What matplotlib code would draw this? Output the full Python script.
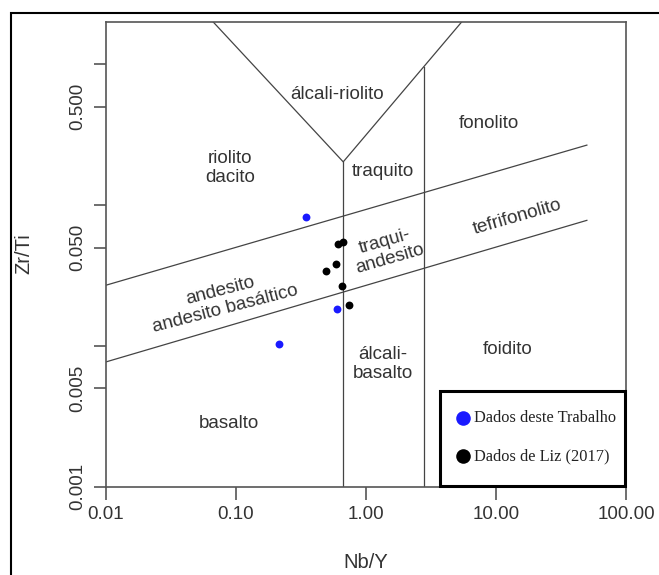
import matplotlib.pyplot as plt
from matplotlib.patches import Rectangle

# amostras
blue_nby = [0.345, 0.595, 0.214]
blue_zrti = [0.0826, 0.0184, 0.0104]
black_nby = [0.605, 0.669, 0.588, 0.492, 0.650, 0.740]
black_zrti = [0.0528, 0.0548, 0.0385, 0.0339, 0.0265, 0.0194]

# limites dos campos (Pearce 1996)
upper_x = [0.01, 50]
upper_y = [0.027, 0.267]
lower_x = [0.01, 50]
lower_y = [0.0077, 0.078]
v_x = [0.0668, 0.668, 5.44]
v_y = [2.0, 0.203, 2.0]
vert1_x = [0.668, 0.668]
vert1_y = [0.001, 0.203]
vert2_x = [2.81, 2.81]
vert2_y = [0.001, 0.96]

xticks = [0.01, 0.1, 1, 10, 100]
xlabels = ['0.01', '0.10', '1.00', '10.00', '100.00']
yticks = [0.001, 0.005, 0.01, 0.05, 0.1, 0.5, 1]
ylabels = ['0.001', '0.005', '', '0.050', '', '0.500', '']

fields = [
    ('álcali-riolito', 0.0, 337, 95),
    ('riolito\ndacito', 0.0, 230, 168),
    ('traquito', 0.0, 383, 172),
    ('fonolito', 0.0, 489, 123),
    ('tefrifonolito', 16.0, 517, 217),
    ('traqui-\nandesito', 16.0, 387, 250),
    ('andesito\nandesito basáltico', 14.5, 223, 300),
    ('álcali-\nbasalto', 0.0, 383, 364),
    ('foidito', 0.0, 508, 350),
    ('basalto', 0.0, 229, 423),
]

plt.rcParams['font.family'] = ['Liberation Sans', 'DejaVu Sans']
W, H = 659, 575
fig = plt.figure(figsize=(W / 100, H / 100), dpi=100)
ax = fig.add_axes([106 / W, 1 - 486.7 / H, 520 / W, 464.7 / H])
ax.set_xscale('log')
ax.set_yscale('log')
ax.set_xlim(0.01, 100)
ax.set_ylim(0.001, 2.0)

lc = '#444444'
for xs, ys in [(upper_x, upper_y), (lower_x, lower_y), (v_x, v_y),
               (vert1_x, vert1_y), (vert2_x, vert2_y)]:
    ax.plot(xs, ys, color=lc, lw=0.9)

ax.scatter(blue_nby, blue_zrti, s=32, color='#1a1aff', zorder=3, linewidths=0)
ax.scatter(black_nby, black_zrti, s=32, color='black', zorder=3, linewidths=0)

for txt, rot, px, py in fields:
    ax.text(px / W, 1 - py / H, txt, transform=fig.transFigure, rotation=rot,
            ha='center', va='center', fontsize=13.5, color='#333333',
            linespacing=1.1, rotation_mode='anchor')

ax.set_xticks(xticks)
ax.set_xticklabels(xlabels)
ax.set_yticks(yticks)
ax.set_yticklabels(ylabels, rotation=90, va='center')
ax.minorticks_off()
ax.tick_params(length=9, width=1.2, color='#555555', labelsize=13.5,
               labelcolor='#333333', pad=5)
for s in ax.spines.values():
    s.set_color('#555555')
    s.set_linewidth(1.2)

ax.set_xlabel('Nb/Y', fontsize=14.5, color='#333333')
ax.set_ylabel('Zr/Ti', fontsize=14.5, color='#333333')
ax.xaxis.set_label_coords(0.5, -(562 - 486.7) / 464.7)
ax.yaxis.set_label_coords((24 - 106) / 520, (486.7 - 254) / 464.7)
ax.xaxis.label.set_va('center')
ax.yaxis.label.set_va('center')

# legenda
fig.patches.append(Rectangle((440 / W, 1 - 485.7 / H), 185 / W, 94.7 / H,
                             transform=fig.transFigure, fill=False,
                             edgecolor='black', lw=2.2))
ax.scatter([463 / W], [1 - 417.7 / H], s=110, color='#1a1aff',
           transform=fig.transFigure, clip_on=False, zorder=4, linewidths=0)
ax.scatter([463 / W], [1 - 456 / H], s=110, color='black',
           transform=fig.transFigure, clip_on=False, zorder=4, linewidths=0)
fig.text(474 / W, 1 - 417.7 / H, 'Dados deste Trabalho', family='Liberation Serif',
         fontsize=11.8, va='center', ha='left', color='#222222')
fig.text(474 / W, 1 - 456 / H, 'Dados de Liz (2017)', family='Liberation Serif',
         fontsize=11.8, va='center', ha='left', color='#222222')

# moldura externa
fig.patches.append(Rectangle((11 / W, -0.05), 1.0, 1 - 12.5 / H + 0.05,
                             transform=fig.transFigure, fill=False,
                             edgecolor='black', lw=1.5))

plt.savefig('out.png', dpi=100)
